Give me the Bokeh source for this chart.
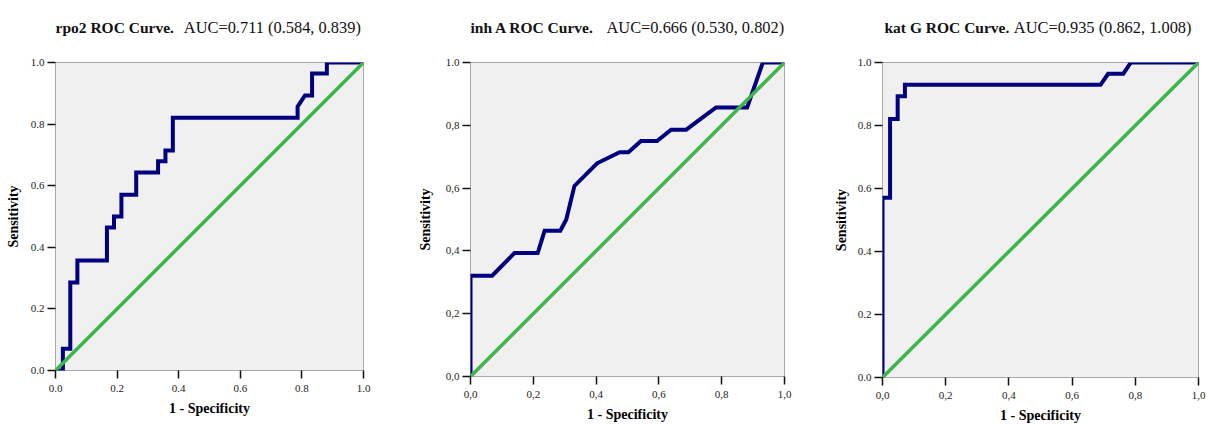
from bokeh.plotting import figure
from bokeh.layouts import row, column
from bokeh.models import Range1d, FixedTicker, Label
from bokeh.embed import file_html
from bokeh.resources import INLINE

# ---------------- data ----------------
tick_values = [0.0, 0.2, 0.4, 0.6, 0.8, 1.0]
dot_labels = ["0.0", "0.2", "0.4", "0.6", "0.8", "1.0"]
comma_labels = ["0,0", "0,2", "0,4", "0,6", "0,8", "1,0"]
inh_y_labels = ["0,0", "0,2", "0,4", "0,6", "0,8", "1.0"]

titles_bold = ["rpo2 ROC Curve.", "inh A ROC Curve.", "kat G ROC Curve."]
titles_auc = ["AUC=0.711 (0.584, 0.839)",
              "AUC=0.666 (0.530, 0.802)",
              "AUC=0.935 (0.862, 1.008)"]

x_title = "1 - Specificity"
y_title = "Sensitivity"

rpo2_fpr = [0.0, 0.024, 0.024, 0.048, 0.048, 0.071, 0.071, 0.167, 0.167, 0.190,
            0.190, 0.214, 0.214, 0.262, 0.262, 0.333, 0.333, 0.357, 0.357, 0.381,
            0.381, 0.786, 0.786, 0.810, 0.833, 0.833, 0.881, 0.881, 1.0]
rpo2_tpr = [0.0, 0.0, 0.071, 0.071, 0.286, 0.286, 0.357, 0.357, 0.464, 0.464,
            0.500, 0.500, 0.571, 0.571, 0.643, 0.643, 0.679, 0.679, 0.714, 0.714,
            0.821, 0.821, 0.857, 0.893, 0.893, 0.964, 0.964, 1.0, 1.0]

inh_fpr = [0.0, 0.0, 0.069, 0.140, 0.214, 0.236, 0.286, 0.305, 0.331, 0.403,
           0.475, 0.503, 0.543, 0.594, 0.639, 0.687, 0.782, 0.881, 0.931, 1.0]
inh_tpr = [0.0, 0.321, 0.321, 0.393, 0.393, 0.464, 0.464, 0.500, 0.607, 0.679,
           0.714, 0.714, 0.750, 0.750, 0.786, 0.786, 0.857, 0.857, 1.0, 1.0]

kat_fpr = [0.0, 0.0, 0.024, 0.024, 0.048, 0.048, 0.071, 0.071, 0.690, 0.714,
           0.762, 0.786, 1.0]
kat_tpr = [0.0, 0.571, 0.571, 0.821, 0.821, 0.893, 0.893, 0.929, 0.929, 0.964,
           0.964, 1.0, 1.0]

ref_x = [0.0, 1.0]
ref_y = [0.0, 1.0]

# ---------------- style ----------------
SERIF = "Liberation Serif"
NAVY = "#00007f"
GREEN = "#3cb54a"
FRAME_BG = "#f0f0f0"
TITLE_H = 40
TITLE_BASE = 13.5


def make_title(bold, auc, left, fw, right, bold_x, auc_x):
    w = fw + right
    t = figure(frame_width=w, frame_height=TITLE_H,
               min_border_left=left, min_border_right=0,
               min_border_top=0, min_border_bottom=0,
               x_range=Range1d(0, w), y_range=Range1d(0, TITLE_H),
               x_axis_location=None, y_axis_location=None,
               output_backend="svg", toolbar_location=None)
    t.outline_line_color = None
    t.background_fill_color = "white"
    t.border_fill_color = "white"
    t.xgrid.visible = False
    t.ygrid.visible = False
    t.add_layout(Label(x=bold_x, y=TITLE_BASE, text=bold, text_font=SERIF,
                       text_font_style="bold", text_font_size="15.5px",
                       text_color="#111111", text_align="left",
                       text_baseline="alphabetic"))
    t.add_layout(Label(x=auc_x, y=TITLE_BASE, text=auc, text_font=SERIF,
                       text_font_style="normal", text_font_size="16.4px",
                       text_color="#111111", text_align="left",
                       text_baseline="alphabetic"))
    return t


def make_panel(fpr, tpr, xlabels, ylabels, fw, fh, left, right, top, ylab_standoff):
    p = figure(frame_width=fw, frame_height=fh,
               min_border_left=left, min_border_right=right,
               min_border_top=top, min_border_bottom=0,
               x_range=Range1d(0, 1), y_range=Range1d(0, 1),
               output_backend="svg", toolbar_location=None)
    p.background_fill_color = FRAME_BG
    p.border_fill_color = "white"
    p.outline_line_color = "#a8a8a8"
    p.outline_line_width = 1
    p.xgrid.visible = False
    p.ygrid.visible = False

    for ax, labels in ((p.xaxis, xlabels), (p.yaxis, ylabels)):
        ax.ticker = FixedTicker(ticks=tick_values)
        ax.major_label_overrides = {t: l for t, l in zip(tick_values, labels)}
        ax.axis_line_color = None
        ax.major_tick_line_color = "#111111"
        ax.major_tick_line_width = 1.5
        ax.major_tick_out = 8
        ax.major_tick_in = 0
        ax.minor_tick_line_color = None
        ax.major_label_text_font = SERIF
        ax.major_label_text_font_size = "11px"
        ax.major_label_text_color = "#222222"
        ax.axis_label_text_font = SERIF
        ax.axis_label_text_font_style = "bold"
        ax.axis_label_text_font_size = "14px"
        ax.axis_label_text_color = "#000000"
    p.xaxis.axis_label = x_title
    p.yaxis.axis_label = y_title
    p.xaxis.major_label_standoff = 6
    p.xaxis.axis_label_standoff = 6
    p.yaxis.major_label_standoff = 3
    p.yaxis.axis_label_standoff = ylab_standoff

    p.line(fpr, tpr, line_color=NAVY, line_width=4, line_join="miter")
    p.line(ref_x, ref_y, line_color=GREEN, line_width=3.5)
    return p


# panel geometry: frame width, frame height, left border, right border
geo1 = (308, 308, 55, 39)
geo2 = (314, 314, 68, 20)
geo3 = (316, 315, 78, 8)

t1 = make_title(titles_bold[0], titles_auc[0], geo1[2], geo1[0], geo1[3], 0, 128.3)
t2 = make_title(titles_bold[1], titles_auc[1], geo2[2], geo2[0], geo2[3], 0, 136)
t3 = make_title(titles_bold[2], titles_auc[2], geo3[2], geo3[0], geo3[3], 2, 131.3)

p1 = make_panel(rpo2_fpr, rpo2_tpr, dot_labels, dot_labels, *geo1, 22, 7)
p2 = make_panel(inh_fpr, inh_tpr, comma_labels, inh_y_labels, *geo2, 22, 10)
p3 = make_panel(kat_fpr, kat_tpr, comma_labels, dot_labels, *geo3, 22, 6)

layout = row(column(t1, p1), column(t2, p2), column(t3, p3))
open("out.html", "w").write(file_html(layout, INLINE))
